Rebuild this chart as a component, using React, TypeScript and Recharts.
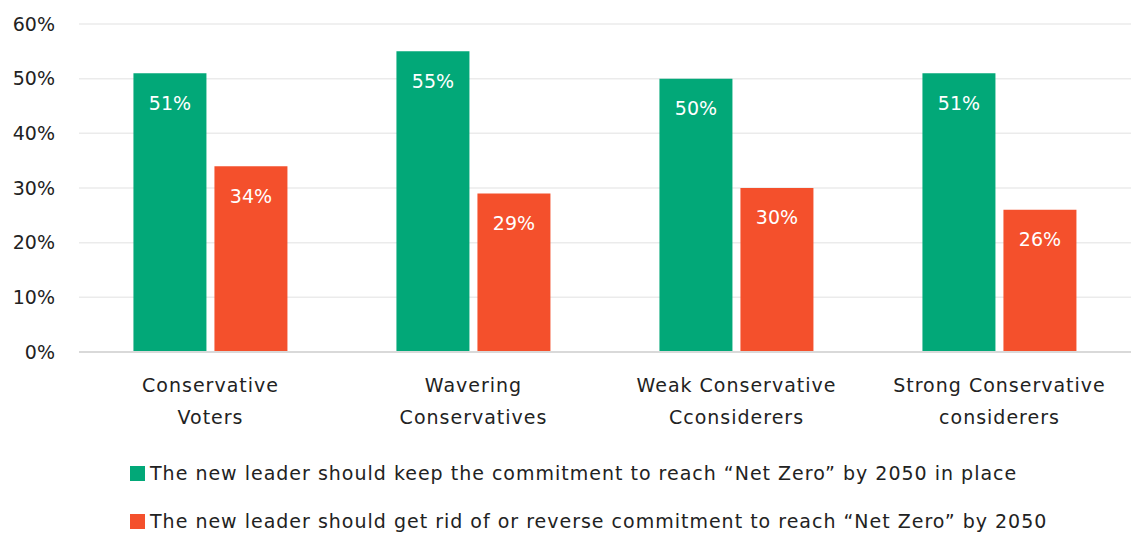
import { BarChart, Bar, XAxis, YAxis, CartesianGrid, LabelList } from 'recharts';

const categories = [
  'Conservative\nVoters',
  'Wavering\nConservatives',
  'Weak Conservative\nCconsiderers',
  'Strong Conservative\nconsiderers',
];
const keepValues = [51, 55, 50, 51];
const reverseValues = [34, 29, 30, 26];
const yTicks = [0, 10, 20, 30, 40, 50, 60];
const seriesNames = [
  'The new leader should keep the commitment to reach \u201cNet Zero\u201d by 2050 in place',
  'The new leader should get rid of or reverse commitment to reach \u201cNet Zero\u201d by 2050',
];

const GREEN = '#02A878';
const RED = '#F4502C';
const FONT = '"DejaVu Sans", sans-serif';

const data = categories.map((name, i) => ({ name, keep: keepValues[i], reverse: reverseValues[i] }));

const CategoryTick = (props: any) => {
  const { x, y, payload } = props;
  const lines = String(payload.value).split('\n');
  return (
    <g transform={`translate(${x},${y})`}>
      {lines.map((l, i) => (
        <text key={i} x={0} y={32 + i * 32} textAnchor="middle" fill="#222" fontSize={19} fontFamily={FONT} letterSpacing={1}>
          {l}
        </text>
      ))}
    </g>
  );
};

export default function App() {
  return (
    <div style={{ position: 'absolute', left: 0, top: 0, width: 1131, height: 533, background: '#fff', fontFamily: FONT }}>
      <BarChart width={1131} height={440} data={data} margin={{ top: 24, right: 0, bottom: 18, left: 0 }} barCategoryGap="20.7%" barGap={8}>
        <CartesianGrid vertical={false} stroke="#EBEBEB" strokeWidth={1.5} />
        <XAxis dataKey="name" tick={<CategoryTick />} height={70} tickLine={false} axisLine={{ stroke: '#D9D9D9', strokeWidth: 2 }} interval={0} />
        <YAxis width={79} domain={[0, 60]} ticks={yTicks} tickFormatter={(v) => `${v}%`} axisLine={false} tickLine={false} tickMargin={18} tick={{ fontSize: 19, fill: '#222', fontFamily: FONT }} />
        <Bar dataKey="keep" fill={GREEN} isAnimationActive={false}>
          <LabelList dataKey="keep" position="insideTop" offset={23} formatter={(v: any) => `${v}%`} fill="#fff" fontSize={19} fontFamily={FONT} />
        </Bar>
        <Bar dataKey="reverse" fill={RED} isAnimationActive={false}>
          <LabelList dataKey="reverse" position="insideTop" offset={23} formatter={(v: any) => `${v}%`} fill="#fff" fontSize={19} fontFamily={FONT} />
        </Bar>
      </BarChart>
      <div style={{ position: 'absolute', left: 130, top: 449 }}>
        {seriesNames.map((n, i) => (
          <div key={n} style={{ display: 'flex', alignItems: 'center', height: 48, fontSize: 19, color: '#222', whiteSpace: 'nowrap', letterSpacing: 1 }}>
            <div style={{ width: 15, height: 15, background: i === 0 ? GREEN : RED, marginRight: 5 }} />
            {n}
          </div>
        ))}
      </div>
    </div>
  );
}
